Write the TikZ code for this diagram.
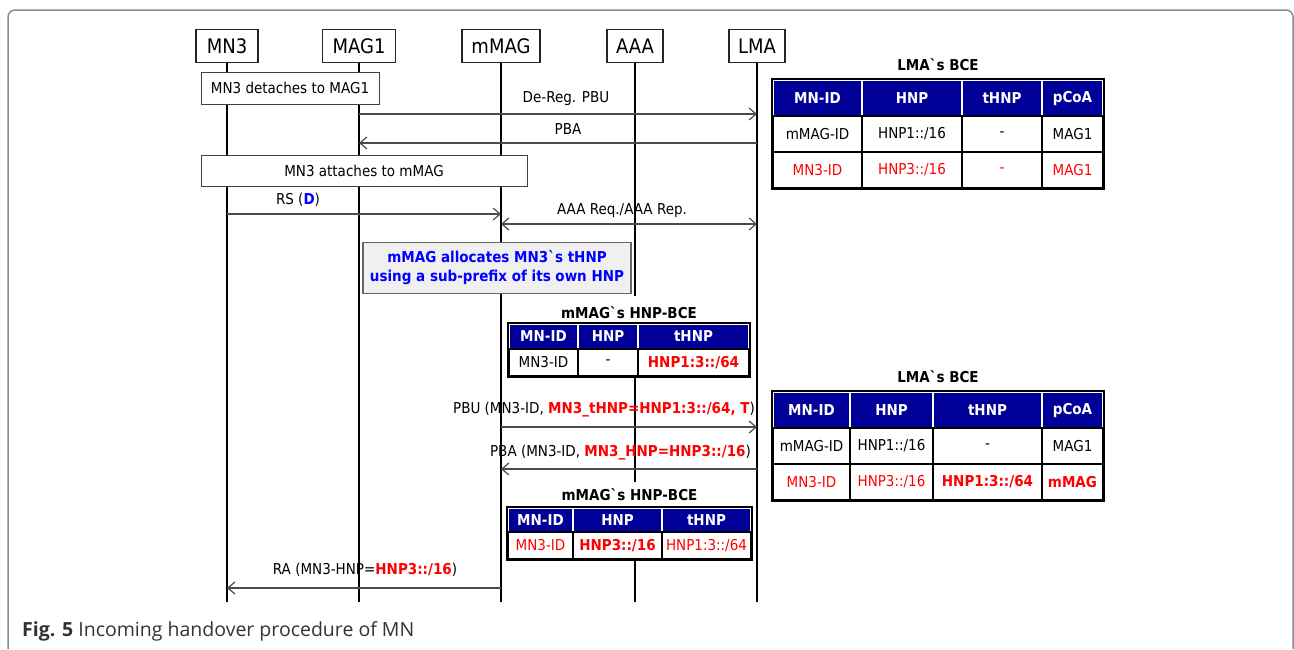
\documentclass[tikz,border=0pt]{standalone}
\usepackage{fontspec}
\newfontfamily\diafont{DejaVu Sans}[FakeStretch=0.9]
\newfontfamily\capfont{Open Sans}
\usepackage{tikz}
\usetikzlibrary{arrows.meta}
\definecolor{hdrblue}{HTML}{000099}
\definecolor{notegray}{HTML}{F0F0F0}
\definecolor{noteblue}{HTML}{0000FF}
\definecolor{hotred}{HTML}{FF0000}
\definecolor{framegray}{HTML}{8C8C8C}
\definecolor{capgray}{HTML}{333333}
\pgfdeclarelayer{nodelayer}
\pgfdeclarelayer{edgelayer}
\pgfsetlayers{edgelayer,nodelayer,main}
\newcommand{\txt}{\diafont\fontsize{15}{18}\selectfont}
\newcommand{\hot}[1]{\textcolor{hotred}{\bfseries #1}}
\tikzset{entity/.style={draw=black!85, fill=white, line width=1.1pt, minimum height=33, inner sep=0pt, font=\diafont\fontsize{20}{22}\selectfont}}
\tikzset{actbox/.style={draw=black!75, fill=white, line width=1pt, inner sep=0pt, font=\txt}}
\tikzset{notebox/.style={draw=black!60, fill=notegray, line width=1.5pt, inner sep=0pt, align=center, text=noteblue, font=\diafont\bfseries\fontsize{15}{19}\selectfont}}
\tikzset{lifeline/.style={draw=black, line width=1.1pt}}
\tikzset{msg/.style={draw=black!70, line width=1.2pt, >={Straight Barb[length=7pt,width=12pt]}}}
\tikzset{lbl/.style={inner sep=0pt, font=\txt}}
\tikzset{ttl/.style={inner sep=0pt, font=\txt\bfseries}}
\tikzset{mttl/.style={ttl, fill=white, anchor=south, inner xsep=4pt}}
\tikzset{hcell/.style={draw=white, line width=1.5pt, fill=hdrblue, text=white, inner sep=0pt, font=\txt\bfseries}}
\tikzset{bcell/.style={draw=black, line width=1.5pt, fill=white, inner sep=0pt, font=\txt}}
\tikzset{tborder/.style={draw=black, line width=2.2pt}}
\tikzset{frame/.style={draw=framegray, line width=1.5pt, rounded corners=7pt}}

\begin{document}
\begin{tikzpicture}[x=1pt, y=-1pt]
	\useasboundingbox (0, 0) rectangle (1294, 649);
	\draw [style=frame] (8, 649) -- (8, 10) -- (1293, 10) -- (1293, 649);
	\begin{pgfonlayer}{nodelayer}
		\node [style=entity, minimum width=62] (0) at (227, 46) {MN3};
		\node [style=entity, minimum width=73] (1) at (359, 46) {MAG1};
		\node [style=entity, minimum width=78] (2) at (501, 46) {mMAG};
		\node [style=entity, minimum width=56] (3) at (635, 46) {AAA};
		\node [style=entity, minimum width=56] (4) at (757, 46) {LMA};
		\node [style=actbox, minimum width=178, minimum height=32] (10) at (290, 88) {MN3 detaches to MAG1};
		\node [style=actbox, minimum width=326, minimum height=31] (11) at (364, 170.5) {MN3 attaches to mMAG};
		\node [style=notebox, minimum width=268, minimum height=51] (12) at (497, 268) {mMAG allocates MN3`s tHNP\\using a sub-prefix of its own HNP};
		% LMA`s BCE, before
		\node [style=ttl] (40) at (938, 65) {LMA`s BCE};
		\node [style=hcell, minimum width=89, minimum height=36] (41) at (817.5, 98) {MN-ID};
		\node [style=hcell, minimum width=100, minimum height=36] (42) at (912, 98) {HNP};
		\node [style=hcell, minimum width=80, minimum height=36] (43) at (1002, 98) {tHNP};
		\node [style=hcell, minimum width=61, minimum height=36] (44) at (1072.5, 98) {pCoA};
		\node [style=bcell, minimum width=89, minimum height=36] (45) at (817.5, 134) {mMAG-ID};
		\node [style=bcell, minimum width=100, minimum height=36] (46) at (912, 134) {HNP1::/16};
		\node [style=bcell, minimum width=80, minimum height=36] (47) at (1002, 134) {-};
		\node [style=bcell, minimum width=61, minimum height=36] (48) at (1072.5, 134) {MAG1};
		\node [style=bcell, text=hotred, minimum width=89, minimum height=36] (49) at (817.5, 170) {MN3-ID};
		\node [style=bcell, text=hotred, minimum width=100, minimum height=36] (50) at (912, 170) {HNP3::/16};
		\node [style=bcell, text=hotred, minimum width=80, minimum height=36] (51) at (1002, 170) {-};
		\node [style=bcell, text=hotred, minimum width=61, minimum height=36] (52) at (1072.5, 170) {MAG1};
		% mMAG`s HNP-BCE, before
		\node [style=mttl, text height=23, text depth=5] (60) at (629, 324) {mMAG`s HNP-BCE};
		\node [style=hcell, minimum width=69, minimum height=25] (61) at (543.5, 336.5) {MN-ID};
		\node [style=hcell, minimum width=60, minimum height=25] (62) at (608, 336.5) {HNP};
		\node [style=hcell, minimum width=111, minimum height=25] (63) at (693.5, 336.5) {tHNP};
		\node [style=bcell, minimum width=69, minimum height=27] (64) at (543.5, 362.5) {MN3-ID};
		\node [style=bcell, minimum width=60, minimum height=27] (65) at (608, 362.5) {-};
		\node [style=bcell, minimum width=111, minimum height=27] (66) at (693.5, 362.5) {\hot{HNP1:3::/64}};
		% LMA`s BCE, after
		\node [style=ttl] (70) at (938, 377) {LMA`s BCE};
		\node [style=hcell, minimum width=77, minimum height=36] (71) at (811.5, 410) {MN-ID};
		\node [style=hcell, minimum width=83, minimum height=36] (72) at (891.5, 410) {HNP};
		\node [style=hcell, minimum width=109, minimum height=36] (73) at (987.5, 410) {tHNP};
		\node [style=hcell, minimum width=61, minimum height=36] (74) at (1072.5, 410) {pCoA};
		\node [style=bcell, minimum width=77, minimum height=36] (75) at (811.5, 446) {mMAG-ID};
		\node [style=bcell, minimum width=83, minimum height=36] (76) at (891.5, 446) {HNP1::/16};
		\node [style=bcell, minimum width=109, minimum height=36] (77) at (987.5, 446) {-};
		\node [style=bcell, minimum width=61, minimum height=36] (78) at (1072.5, 446) {MAG1};
		\node [style=bcell, text=hotred, minimum width=77, minimum height=36] (79) at (811.5, 482) {MN3-ID};
		\node [style=bcell, text=hotred, minimum width=83, minimum height=36] (80) at (891.5, 482) {HNP3::/16};
		\node [style=bcell, minimum width=109, minimum height=36] (81) at (987.5, 482) {\hot{HNP1:3::/64}};
		\node [style=bcell, minimum width=61, minimum height=36] (82) at (1072.5, 482) {\hot{mMAG}};
		% mMAG`s HNP-BCE, after
		\node [style=mttl, text height=19, text depth=7] (90) at (629.5, 508) {mMAG`s HNP-BCE};
		\node [style=hcell, minimum width=65, minimum height=24] (91) at (540.5, 520) {MN-ID};
		\node [style=hcell, minimum width=89, minimum height=24] (92) at (617.5, 520) {HNP};
		\node [style=hcell, minimum width=89, minimum height=24] (93) at (706.5, 520) {tHNP};
		\node [style=bcell, text=hotred, minimum width=65, minimum height=27] (94) at (540.5, 545.5) {MN3-ID};
		\node [style=bcell, minimum width=89, minimum height=27] (95) at (617.5, 545.5) {\hot{HNP3::/16}};
		\node [style=bcell, text=hotred, minimum width=89, minimum height=27] (96) at (706.5, 545.5) {HNP1:3::/64};
		% message labels
		\node [style=lbl] (15) at (566, 99) {De-Reg. PBU};
		\node [style=lbl] (18) at (568, 129) {PBA};
		\node [style=lbl] (21) at (298, 200) {RS (\textcolor{noteblue}{\bfseries D})};
		\node [style=lbl] (24) at (622, 211) {AAA Req./AAA Rep.};
		\node [style=lbl, anchor=east] (27) at (755, 410) {PBU (MN3-ID, \hot{MN3\_tHNP=HNP1:3::/64, T})};
		\node [style=lbl, anchor=east] (30) at (751, 453) {PBA (MN3-ID, \hot{MN3\_HNP=HNP3::/16})};
		\node [style=lbl] (33) at (365, 570) {RA (MN3-HNP=\hot{HNP3::/16})};
		\node [anchor=base west, inner sep=0pt, text=capgray, font=\capfont\fontsize{19.5}{23}\selectfont] (99) at (22, 636) {\textbf{Fig. 5} Incoming handover procedure of MN};
	\end{pgfonlayer}
	\begin{pgfonlayer}{edgelayer}
		\coordinate (5) at (227, 602);
		\coordinate (6) at (359, 602);
		\coordinate (7) at (501, 602);
		\coordinate (8) at (635, 602);
		\coordinate (9) at (757, 602);
		\draw [style=lifeline] (0) to (5);
		\draw [style=lifeline] (1) to (6);
		\draw [style=lifeline] (2) to (7);
		\draw [style=lifeline] (3) to (8);
		\draw [style=lifeline] (4) to (9);
		\coordinate (13) at (359, 114);
		\coordinate (14) at (757, 114);
		\coordinate (16) at (757, 143);
		\coordinate (17) at (359, 143);
		\coordinate (19) at (227, 214);
		\coordinate (20) at (501, 214);
		\coordinate (22) at (501, 224);
		\coordinate (23) at (757, 224);
		\coordinate (25) at (501, 427);
		\coordinate (26) at (757, 427);
		\coordinate (28) at (757, 469);
		\coordinate (29) at (501, 469);
		\coordinate (31) at (501, 588);
		\coordinate (32) at (227, 588);
		\draw [style=msg, ->] (13) to (14);
		\draw [style=msg, ->] (16) to (17);
		\draw [style=msg, ->] (19) to (20);
		\draw [style=msg, <->] (22) to (23);
		\draw [style=msg, ->] (25) to (26);
		\draw [style=msg, ->] (28) to (29);
		\draw [style=msg, ->] (31) to (32);
	\end{pgfonlayer}
	\begin{pgfonlayer}{main}
		\draw [style=tborder] (41.north west) rectangle (52.south east);
		\draw [style=tborder] (61.north west) rectangle (66.south east);
		\draw [style=tborder] (71.north west) rectangle (82.south east);
		\draw [style=tborder] (91.north west) rectangle (96.south east);
	\end{pgfonlayer}
\end{tikzpicture}
\end{document}
